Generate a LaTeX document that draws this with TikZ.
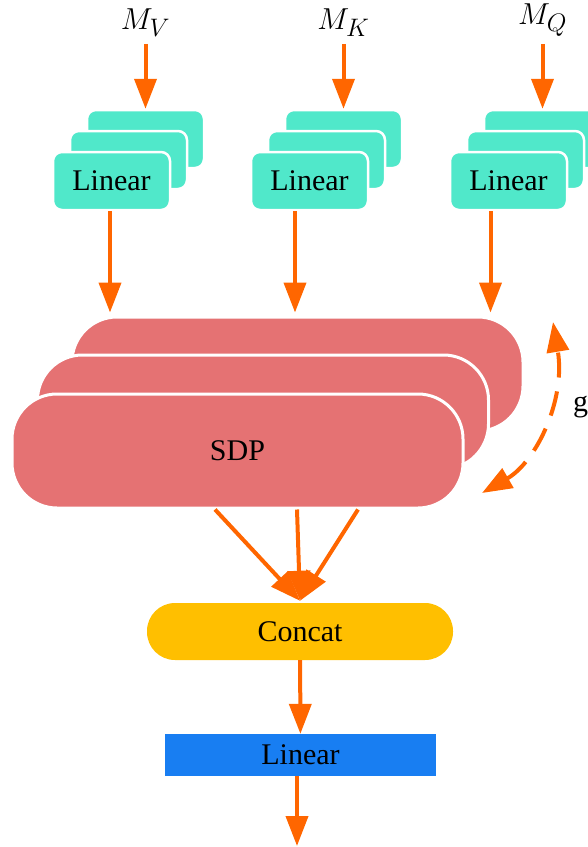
\documentclass[tikz,border=0pt]{standalone}
\usepackage{fontspec}
\setmainfont{Liberation Serif}
\usepackage{graphicx}
\usepackage{tikz}
\usetikzlibrary{shapes,arrows,positioning,calc,arrows.meta}

\definecolor{tealc}{RGB}{80,232,202}
\definecolor{sdpc}{RGB}{229,114,115}
\definecolor{catc}{RGB}{255,191,0}
\definecolor{bluec}{RGB}{24,126,242}
\definecolor{arrc}{RGB}{255,102,0}

\newcommand{\mlab}[1]{\scalebox{1.22}{\fontsize{24.88}{30}\selectfont$#1$}}

\tikzset{
  lin/.style={rectangle, rounded corners=9pt, fill=tealc, draw=white, line width=2.5pt,
    minimum width=117pt, minimum height=58pt},
  sdp/.style={rectangle, rounded corners=45pt, fill=sdpc, draw=white, line width=3pt,
    minimum width=451pt, minimum height=114pt},
  arr/.style={-{Triangle[length=30pt,width=22pt]}, draw=arrc, line width=4pt},
  darr/.style={{Triangle[length=30pt,width=22pt]}-{Triangle[length=30pt,width=22pt]},
    draw=arrc, line width=4pt, dash pattern=on 25pt off 14pt}
}

\begin{document}
\begin{tikzpicture}[x=1pt, y=-1pt, every node/.style={font=\fontsize{30}{36}\selectfont}]
    \useasboundingbox (0,0) rectangle (588,847);

    % linear stacks
    \node [lin] (vB) at (145.5,139) {};
    \node [lin] (vM) at ([shift={(-17,21)}]vB) {};
    \node [lin] (vF) at ([shift={(-17,21)}]vM) {Linear};
    \node [lin] (kB) at (343.5,139) {};
    \node [lin] (kM) at ([shift={(-17,21)}]kB) {};
    \node [lin] (kF) at ([shift={(-17,21)}]kM) {Linear};
    \node [lin] (qB) at (542.5,139) {};
    \node [lin] (qM) at ([shift={(-17,21)}]qB) {};
    \node [lin] (qF) at ([shift={(-17,21)}]qM) {Linear};

    \node [inner sep=7pt, above=65pt of vB] (mv) {\mlab{M_V}};
    \node [inner sep=7pt, above=65pt of kB] (mk) {\mlab{M_K}};
    \node [inner sep=7pt, above=65pt of qB] (mq) {\mlab{M_Q}};

    % sdp stack
    \node [sdp] (sB) at (297.5,374) {};
    \node [sdp] (sM) at (263,412) {};
    \node [sdp] (sF) at (237.5,451) {SDP};

    \node [rectangle, rounded corners=28pt, fill=catc, minimum width=306pt, minimum height=57pt] (concat) at (300,631.5) {Concat};
    \node [rectangle, fill=bluec, minimum width=271pt, minimum height=42pt] (lout) at (300.5,755) {Linear};

    \node [anchor=base west, inner sep=0pt] (glab) at (573,411) {g};

    \coordinate (vO) at ([xshift=-1.5pt]vF.south);
    \coordinate (kO) at ([xshift=-14.5pt]kF.south);
    \coordinate (qO) at ([xshift=-18pt]qF.south);
    \coordinate (s1) at ([xshift=-22.5pt]sF.south);
    \coordinate (s2) at ([xshift=59.5pt]sF.south);
    \coordinate (s3) at ([xshift=120.5pt]sF.south);
    \coordinate (out) at (297,846);
    \coordinate (gbot) at (482,493);
    \coordinate (gtop) at (553,322);

    \draw [arr] (mv) -- (vB);
    \draw [arr] (mk) -- (kB);
    \draw [arr] (mq) -- (qB);
    \draw [arr] (vO) -- ([yshift=3pt]vO |- sB.north);
    \draw [arr] (kO) -- ([yshift=3pt]kO |- sB.north);
    \draw [arr] (qO) -- ([yshift=3pt]qO |- sB.north);
    \draw [arr] (s1) -- ([yshift=2pt]concat.north);
    \draw [arr] (s3) -- ([yshift=2pt]concat.north);
    \draw [arr] (s2) -- ([yshift=2pt]concat.north);
    \draw [arr] (concat) -- (lout);
    \draw [arr] ([xshift=-3.5pt]lout.south) -- (out);
    \draw [darr] (gbot) .. controls (536,462) and (566,400) .. (gtop);
\end{tikzpicture}
\end{document}
